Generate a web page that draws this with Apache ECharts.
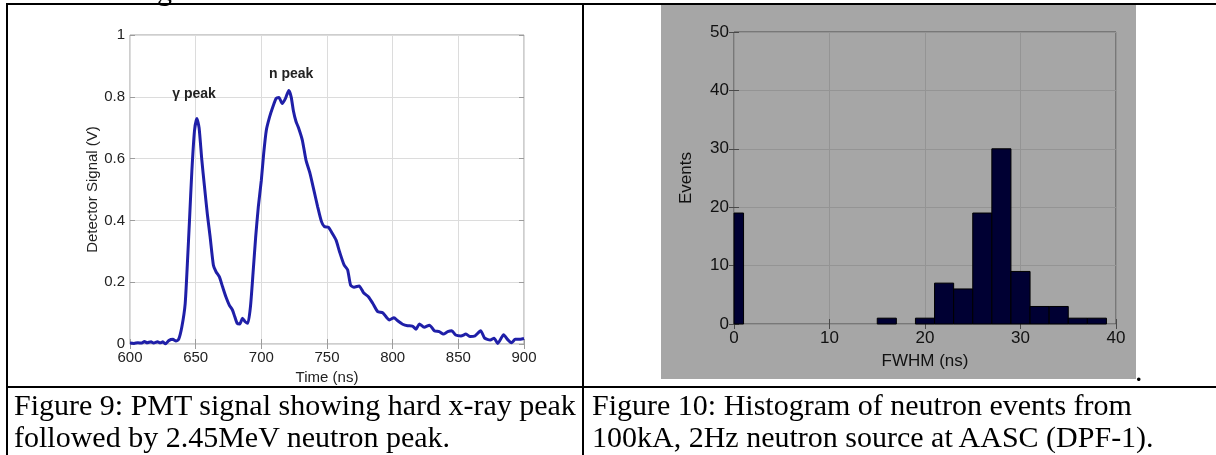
<!DOCTYPE html>
<html><head><meta charset="utf-8">
<script src="https://cdn.jsdelivr.net/npm/echarts@6/dist/echarts.min.js"></script>
<style>
html,body{margin:0;padding:0;background:#fff;}
body{width:1216px;height:455px;overflow:hidden;position:relative;}
#chart{position:absolute;left:0;top:0;width:1216px;height:455px;}
.ln{position:absolute;background:#000;}
.cap{position:absolute;font-family:"Liberation Serif","Times New Roman",serif;font-size:30px;line-height:31.5px;color:#000;white-space:nowrap;}
</style></head><body>
<div id="chart"></div>
<div class="cap" style="left:157px;top:-26px">g</div>
<div class="ln" style="left:6px;top:3px;width:1210px;height:2px"></div>
<div class="ln" style="left:6px;top:3px;width:2px;height:452px"></div>
<div class="ln" style="left:582px;top:3px;width:2px;height:452px"></div>
<div class="ln" style="left:6px;top:386px;width:1210px;height:2px"></div>
<div class="cap" style="left:1135px;top:355px">.</div>
<div class="cap" style="left:14px;top:389px">Figure 9: PMT signal showing hard x-ray peak<br>followed by 2.45MeV neutron peak.</div>
<div class="cap" style="left:592px;top:389px">Figure 10: Histogram of neutron events from<br>100kA, 2Hz neutron source at AASC (DPF-1).</div>
<script>
// ---- Figure 9 data: PMT signal ----
const timeNs = [600,603,606,609,611,613,616,618,621,623,625,627,629.5,632.7,635,637,639.5,642,643.8,645.3,647.1,649.1,650.9,652.6,654.7,656.7,658.9,661,663.5,665.5,668,670.5,673,675.6,678,679.8,681.6,683.6,685.6,687.7,689.7,691.7,693.7,695.7,697.7,700,701.8,703.8,706.3,708.8,711.3,713.4,715.9,718.4,720.9,722.7,724.4,726.4,728.3,731.2,734,737,740,742.9,745.8,748,751,754,756.9,759.6,763,765.7,768,770.6,774.4,778,781.5,784.8,788.6,792.4,795,797.5,801,803.8,807.6,811.4,815,817.8,820.3,824,828,831.7,835.5,838.6,841.9,845,848,852,855.8,859,862.6,867,870,874.3,877.2,880,884.5,887.4,890.4,893.3,896,900];
const signalV = [0.003,0.002,0.004,0.003,0.008,0.004,0.007,0.003,0.007,0.004,0.007,0.0,0.011,0.015,0.01,0.015,0.056,0.13,0.27,0.40,0.56,0.69,0.73,0.70,0.595,0.51,0.42,0.347,0.255,0.234,0.218,0.185,0.153,0.126,0.11,0.088,0.067,0.065,0.083,0.072,0.067,0.12,0.23,0.347,0.444,0.53,0.617,0.692,0.735,0.768,0.795,0.798,0.778,0.795,0.82,0.80,0.755,0.72,0.70,0.66,0.595,0.553,0.498,0.444,0.396,0.38,0.378,0.358,0.336,0.298,0.256,0.24,0.19,0.184,0.188,0.165,0.153,0.132,0.105,0.101,0.088,0.078,0.085,0.075,0.064,0.059,0.058,0.048,0.065,0.054,0.061,0.043,0.04,0.032,0.04,0.043,0.029,0.026,0.032,0.024,0.026,0.043,0.019,0.013,0.019,0.002,0.03,0.015,0.004,0.015,0.015,0.018];
const annoText = ['γ peak','n peak'];
const annoX = [648.8, 722.7];
const annoY = [0.81, 0.874];

// ---- Figure 10 data: histogram ----
const fwhmCenters = [0,16,20,22,24,26,28,30,32,34,36,38];
const events = [19,1,1,7,6,19,30,9,3,3,1,1];
const binWidth = 2;

const sans = '"Liberation Sans", Arial, sans-serif';
const chart = echarts.init(document.getElementById('chart'), null, {renderer:'canvas'});

function sideAxis(grid, pos, min, max, interval, color){
  return {type:'value', gridIndex:grid, position:pos, min:min, max:max, interval:interval,
    axisLine:{show:false}, axisLabel:{show:false}, splitLine:{show:false},
    axisTick:{show:true, inside:true, length:5, lineStyle:{color:color}}};
}

chart.setOption({
  animation:false,
  graphic:{elements:[{type:'rect', z:-10, silent:true, shape:{x:661,y:5,width:475,height:374}, style:{fill:'#a6a6a6'}}]},
  grid:[
    {left:130, top:35, width:394, height:309, show:true, borderColor:'#9c9c9c', borderWidth:1, backgroundColor:'transparent'},
    {left:734, top:32, width:382, height:292, show:true, borderColor:'#4a4a4a', borderWidth:1, backgroundColor:'transparent'}
  ],
  xAxis:[
    {type:'value', gridIndex:0, min:600, max:900, interval:50,
      axisLine:{show:false}, axisTick:{show:true, inside:true, length:5, lineStyle:{color:'#9c9c9c'}},
      axisLabel:{fontSize:15, color:'#222', fontFamily:sans, margin:6},
      splitLine:{show:true, lineStyle:{color:'#dcdcdc', width:1}},
      name:'Time (ns)', nameLocation:'middle', nameGap:22, nameTextStyle:{fontSize:15, color:'#222', fontFamily:sans}},
    sideAxis(0,'top',600,900,50,'#9c9c9c'),
    {type:'value', gridIndex:1, min:0, max:40, interval:10,
      axisLine:{show:false}, axisTick:{show:true, inside:true, length:5, lineStyle:{color:'#4a4a4a'}},
      axisLabel:{fontSize:17, color:'#111', fontFamily:sans, margin:6},
      splitLine:{show:true, lineStyle:{color:'#949494', width:1}},
      name:'FWHM (ns)', nameLocation:'middle', nameGap:29, nameTextStyle:{fontSize:17, color:'#111', fontFamily:sans}},
    sideAxis(1,'top',0,40,10,'#4a4a4a')
  ],
  yAxis:[
    {type:'value', gridIndex:0, min:0, max:1, interval:0.2,
      axisLine:{show:false}, axisTick:{show:true, inside:true, length:5, lineStyle:{color:'#9c9c9c'}},
      axisLabel:{fontSize:15, color:'#222', fontFamily:sans, margin:5},
      splitLine:{show:true, lineStyle:{color:'#dcdcdc', width:1}},
      name:'Detector Signal (V)', nameLocation:'middle', nameGap:30, nameTextStyle:{fontSize:15, color:'#222', fontFamily:sans}},
    sideAxis(0,'right',0,1,0.2,'#9c9c9c'),
    {type:'value', gridIndex:1, min:0, max:50, interval:10,
      axisLine:{show:false}, axisTick:{show:true, inside:true, length:5, lineStyle:{color:'#4a4a4a'}},
      axisLabel:{fontSize:17, color:'#111', fontFamily:sans, margin:5},
      splitLine:{show:true, lineStyle:{color:'#949494', width:1}},
      name:'Events', nameLocation:'middle', nameGap:39, nameTextStyle:{fontSize:17, color:'#111', fontFamily:sans}},
    sideAxis(1,'right',0,50,10,'#4a4a4a')
  ],
  series:[
    {type:'line', xAxisIndex:0, yAxisIndex:0, showSymbol:false, smooth:0.2,
      data: timeNs.map((t,i)=>[t, signalV[i]]),
      lineStyle:{color:'#1f1fa8', width:3}, itemStyle:{color:'#1f1fa8'},
      markPoint:{symbol:'circle', symbolSize:0, silent:true,
        data: annoText.map((s,i)=>({name:s, coord:[annoX[i], annoY[i]]})),
        label:{show:true, position:'inside', formatter:p=>p.name, fontSize:14, fontWeight:'bold', color:'#222', fontFamily:sans}}},
    {type:'custom', xAxisIndex:2, yAxisIndex:2,
      data: fwhmCenters.map((c,i)=>[c, events[i]]),
      renderItem:function(params, api){
        const c = api.value(0), v = api.value(1);
        const p0 = api.coord([c - binWidth/2, v]);
        const p1 = api.coord([c + binWidth/2, 0]);
        const cs = params.coordSys;
        const r = echarts.graphic.clipRectByRect(
          {x:p0[0], y:p0[1], width:p1[0]-p0[0], height:p1[1]-p0[1]},
          {x:cs.x, y:cs.y, width:cs.width, height:cs.height});
        return r && {type:'rect', shape:r, style:{fill:'#000033', stroke:'#000000', lineWidth:1}};
      }}
  ]
});
</script>
</body></html>
